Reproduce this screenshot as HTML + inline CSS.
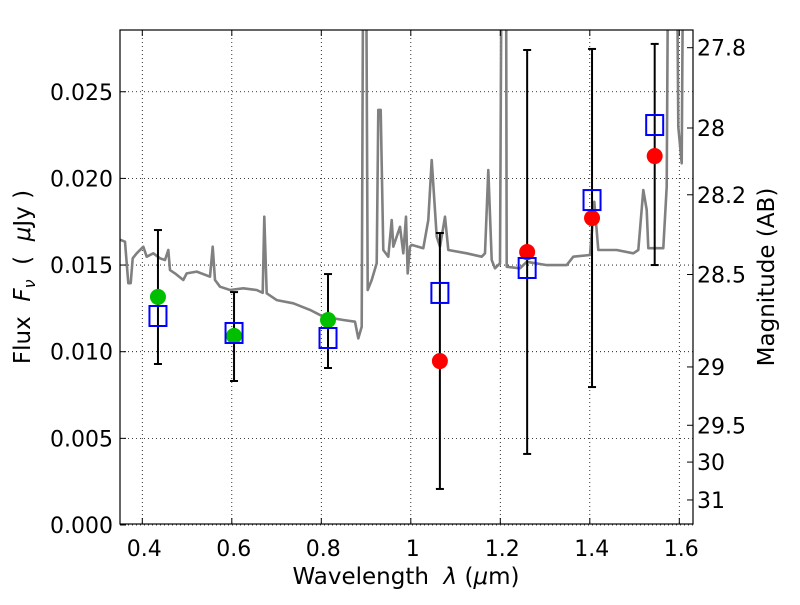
<!DOCTYPE html>
<html><head><meta charset="utf-8"><style>
body{margin:0;background:#fff;}
svg{font-family:"DejaVu Sans","Liberation Sans",sans-serif;}
</style></head><body>
<svg id="chart" width="800" height="600" viewBox="0 0 800 600" xmlns="http://www.w3.org/2000/svg">
<defs><clipPath id="pc"><rect x="120" y="30" width="573" height="494"/></clipPath></defs>
<rect x="0" y="0" width="800" height="600" fill="#fff"/>
<g id="grid"></g>
<g id="spec" clip-path="url(#pc)"></g>
<g id="errs"></g>
<g id="marks"></g>
<rect x="120" y="30" width="573" height="494" fill="none" stroke="#000" stroke-width="1.2"/>
<g id="axes" font-size="22" fill="#000"></g>
<text x="406" y="584" font-size="23" text-anchor="middle" xml:space="preserve">Wavelength  <tspan font-style="italic">λ</tspan> (<tspan font-style="italic">μ</tspan>m)</text>
<text transform="translate(30,277) rotate(-90)" font-size="23" text-anchor="middle" xml:space="preserve">Flux  <tspan font-style="italic">F</tspan><tspan font-style="italic" font-size="16" dy="5">ν</tspan><tspan dy="-5">  (  </tspan><tspan font-style="italic">μ</tspan>Jy )</text>
<text transform="translate(774,277) rotate(-90)" font-size="23" text-anchor="middle">Magnitude (AB)</text>
</svg>
<script>
const specWave=[0.3508,0.3613,0.3687,0.3741,0.3785,0.3875,0.4022,0.4098,0.4246,0.4396,
0.4507,0.4581,0.4619,0.4731,0.4916,0.4992,0.5216,0.5513,0.5573,0.5625,
0.5736,0.5960,0.6257,0.6556,0.6690,0.6726,0.6780,0.7003,0.7374,0.7747,
0.8045,0.8492,0.8753,0.8827,0.8903,0.8939,0.8999,0.9037,0.9126,0.9238,
0.9274,0.9327,0.9385,0.9497,0.9573,0.9609,0.9759,0.9832,0.9893,0.9931,
0.9982,1.0020,1.0279,1.0391,1.0467,1.0579,1.0653,1.0765,1.0838,1.1249,
1.1584,1.1658,1.1732,1.1808,1.1882,1.1993,1.2031,1.2127,1.2143,1.2440,
1.2590,1.3037,1.3484,1.3631,1.4005,1.4101,1.4190,1.4601,1.4972,1.5084,
1.5196,1.5272,1.5307,1.5643,1.5719,1.5754,1.5942,1.5978,1.6054,1.6090];
const specFlux=[0.01645,0.01635,0.01395,0.01395,0.01539,0.01568,0.01606,0.01548,0.01568,0.01539,
0.01529,0.01587,0.01471,0.01452,0.01414,0.01452,0.01462,0.01433,0.01606,0.01414,
0.01375,0.01356,0.01366,0.01356,0.01340,0.01779,0.01337,0.01298,0.01279,0.01241,
0.01202,0.01183,0.01173,0.01077,0.01144,0.035,0.035,0.01356,0.01414,0.01510,
0.02395,0.02395,0.01587,0.01548,0.01760,0.01606,0.01721,0.01568,0.01779,0.01452,
0.01606,0.01616,0.01597,0.01760,0.02106,0.01664,0.01606,0.01779,0.01587,0.01568,
0.01548,0.01568,0.02048,0.01529,0.01481,0.01510,0.035,0.035,0.01490,0.01481,
0.01519,0.01500,0.01500,0.01548,0.01558,0.01865,0.01587,0.01587,0.01568,0.01587,
0.01933,0.01818,0.01597,0.01597,0.01952,0.035,0.035,0.02298,0.02087,0.035];
const bandWave=[0.435,0.605,0.815,1.065,1.26,1.405,1.545];
const obsFlux=[0.01316,0.01091,0.01183,0.00946,0.01575,0.01771,0.02129];
const obsColor=['green','green','green','red','red','red','red'];
const modelFlux=[0.01206,0.01108,0.01079,0.01339,0.01483,0.01875,0.02308];
const errHigh=[0.01702,0.01344,0.01448,0.01685,0.02741,0.02747,0.02776];
const errLow=[0.00929,0.00831,0.00906,0.00208,0.0041,0.00796,0.01500];
const xTicks=[0.4,0.6,0.8,1.0,1.2,1.4,1.6];
const xTickLabels=['0.4','0.6','0.8','1','1.2','1.4','1.6'];
const yTicks=[0,0.005,0.010,0.015,0.020,0.025];
const yTickLabels=['0.000','0.005','0.010','0.015','0.020','0.025'];
const magTicks=[27.8,28,28.2,28.5,29,29.5,30,31];
const magTickLabels=['27.8','28','28.2','28.5','29','29.5','30','31'];

const X=v=>142.3+(v-0.4)*447.5;
const Y=v=>525-v*17330;
const M=m=>Y(Math.pow(10,-0.4*(m-23.9)));
const NS='http://www.w3.org/2000/svg';
function mk(tag,parent,attrs){const e=document.createElementNS(NS,tag);for(const k in attrs)e.setAttribute(k,attrs[k]);parent.appendChild(e);return e;}
const grid=document.getElementById('grid'),axes=document.getElementById('axes');
xTicks.forEach((t,i)=>{
 const l=mk('line',grid,{x1:X(t),x2:X(t),y1:30,y2:524,stroke:'#000','stroke-width':0.8,'stroke-dasharray':'1,3'});
 
 
 mk('line',axes,{x1:X(t),x2:X(t),y1:524,y2:518,stroke:'#000'});
 mk('line',axes,{x1:X(t),x2:X(t),y1:30,y2:36,stroke:'#000'});
 const tx=mk('text',axes,{x:X(t)+2,y:556,'text-anchor':'middle'});tx.textContent=xTickLabels[i];
 
 
});
yTicks.forEach((t,i)=>{
 const l=mk('line',grid,{x1:120,x2:693,y1:Y(t),y2:Y(t),stroke:'#000','stroke-width':0.8,'stroke-dasharray':'1,3'});
 
 
 mk('line',axes,{x1:120,x2:126,y1:Y(t),y2:Y(t),stroke:'#000'});
 const tx=mk('text',axes,{x:113,y:Y(t)+8,'text-anchor':'end'});tx.textContent=yTickLabels[i];
 
 
});
magTicks.forEach((m,i)=>{
 mk('line',axes,{x1:687,x2:693,y1:M(m),y2:M(m),stroke:'#000'});
 const tx=mk('text',axes,{x:697,y:M(m)+8});tx.textContent=magTickLabels[i];
 
 
});
const spec=document.getElementById('spec');
const p=mk('polyline',spec,{points:specWave.map((w,i)=>X(w).toFixed(1)+','+Y(specFlux[i]).toFixed(1)).join(' '),fill:'none',stroke:'#808080','stroke-width':2.6,'stroke-linejoin':'round'});


const errs=document.getElementById('errs'),marks=document.getElementById('marks');
bandWave.forEach((w,i)=>{
 const x=X(w);
 const e=mk('line',errs,{x1:x,x2:x,y1:Y(errHigh[i]),y2:Y(errLow[i]),stroke:'#000','stroke-width':2});
 
 
 mk('line',errs,{x1:x-4,x2:x+4,y1:Y(errHigh[i]),y2:Y(errHigh[i]),stroke:'#000','stroke-width':2});
 mk('line',errs,{x1:x-4,x2:x+4,y1:Y(errLow[i]),y2:Y(errLow[i]),stroke:'#000','stroke-width':2});
});
bandWave.forEach((w,i)=>{
 const x=X(w);
 const c=mk('circle',marks,{cx:x,cy:Y(obsFlux[i]),r:8,fill:obsColor[i]==='green'?'#00bf00':'#ff0000'});
 
 
 const s=mk('rect',marks,{x:x-8.5,y:Y(modelFlux[i])-10,width:17,height:20,fill:'none',stroke:'#0000ff','stroke-width':2});
 
 
});
</script>
</body></html>
